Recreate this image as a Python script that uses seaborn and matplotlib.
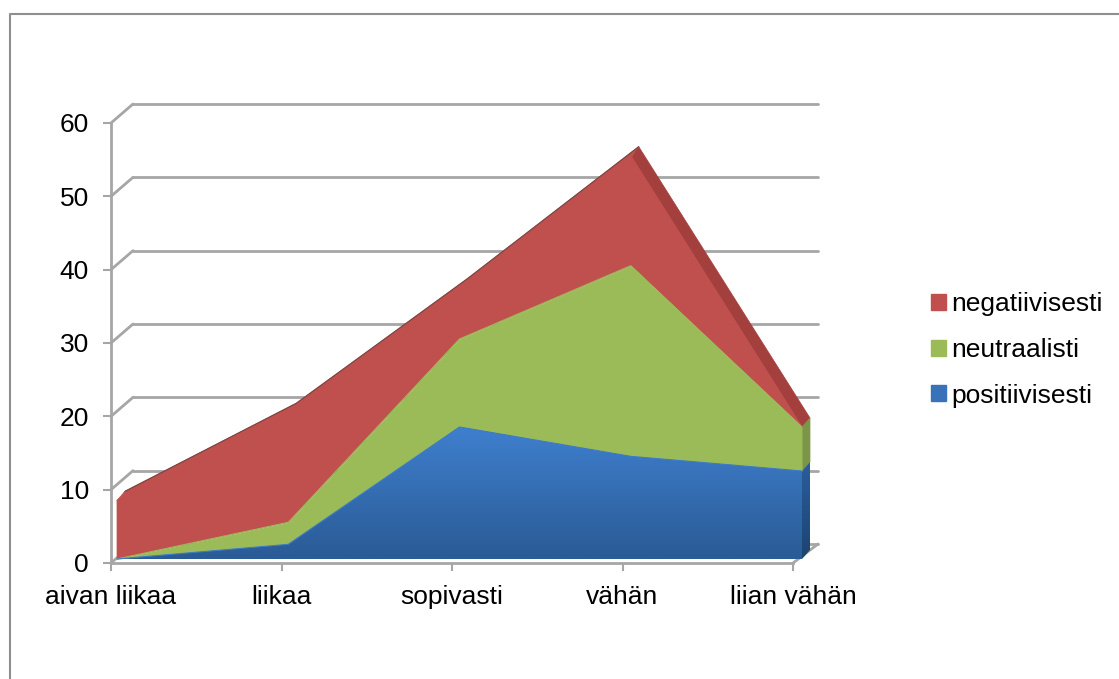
import numpy as np
import pandas as pd
import matplotlib
matplotlib.use('Agg')
import matplotlib.pyplot as plt
import matplotlib.transforms as mtrans
from matplotlib.colors import LinearSegmentedColormap
from matplotlib.lines import Line2D
from matplotlib.patches import Patch, Polygon
import seaborn as sns

categories = ['aivan liikaa', 'liikaa', 'sopivasti', 'vähän', 'liian vähän']
positiivisesti = [0, 2, 18, 14, 12]
neutraalisti = [0, 3, 12, 26, 6]
negatiivisesti = [8, 15, 7, 15, 0]
y_ticks = [0, 10, 20, 30, 40, 50, 60]

BLUE, GREEN, RED = '#3a72ba', '#9bbb59', '#c0504d'
GREY = '#a6a6a6'

sns.set_theme(style='white')
plt.rcParams['font.family'] = ['Liberation Sans', 'DejaVu Sans']

W, H = 1119, 679
AXIS_LEFT, AXIS_WIDTH = 111, 682
fig = plt.figure(figsize=(W / 100, H / 100), dpi=100, facecolor='white')
# axes box is the front plane of the fake 3D chart
ax = fig.add_axes([AXIS_LEFT / W, 1 - 563 / H, AXIS_WIDTH / W, 440 / H], facecolor='none')

x_pos = np.arange(len(categories))
pos_top = np.array(positiivisesti)
neu_top = pos_top + np.array(neutraalisti)
neg_top = neu_top + np.array(negatiivisesti)

df = pd.DataFrame({
    'x': np.tile(x_pos, 3),
    'y': np.concatenate([neg_top, neu_top, pos_top]),
    'serie': np.repeat(['negatiivisesti', 'neutraalisti', 'positiivisesti'], len(x_pos)),
})

ax.set_xlim(0, 4)
ax.set_ylim(0, 60)


def plane(dx, dy):
    # the planes behind the axis are a little wider than the axis itself
    shift = mtrans.Affine2D().translate(-AXIS_LEFT, 0).scale(685 / AXIS_WIDTH, 1).translate(AXIS_LEFT + dx, dy)
    return ax.transData + shift


wall_tr = plane(22, 19)
area_tr = plane(6, 4)
back_tr = plane(14, 13)
under_tr = plane(6, 0)  # a bit below the area's top edge, hides the seam
pixels = mtrans.IdentityTransform()


def depth_line(x, v):
    start = ax.transData.transform([(x, v)])
    end = wall_tr.transform([(x, v)])
    ax.plot([start[0, 0], end[0, 0]], [start[0, 1], end[0, 1]], color=GREY, lw=2,
            transform=pixels, clip_on=False, zorder=1)


# back wall grid
for v in y_ticks:
    ax.plot([0, 4], [v, v], color=GREY, lw=2, transform=wall_tr, clip_on=False, zorder=1)
    depth_line(0, v)
depth_line(4, 0)


def depth_face(x0, y0, x1, y1, color, front_tr=area_tr):
    front = front_tr.transform([(x0, y0), (x1, y1)])
    back = back_tr.transform([(x1, y1), (x0, y0)])
    poly = Polygon(np.vstack([front, back]), closed=True, facecolor=color, edgecolor=color,
                   lw=0.5, transform=pixels, clip_on=False, zorder=2)
    ax.add_patch(poly)
    return poly


# depth faces, the rising top faces catch the light
depth_face(0, 0, 0, neg_top[0], RED)
for i in range(3):
    depth_face(x_pos[i], neg_top[i], x_pos[i + 1], neg_top[i + 1], RED, under_tr)
ax.plot(x_pos[:4], neg_top[:4], color='#7d4644', lw=0.9, transform=back_tr, clip_on=False, zorder=2)
depth_face(3, neg_top[3], 4, neg_top[4], '#a33f3d', under_tr)
depth_face(4, pos_top[-1], 4, neu_top[-1], '#7c9647')
side = depth_face(4, 0, 4, pos_top[-1], 'none')

# stacked areas
ax.fill_between(x_pos, neu_top, neg_top, color=RED, lw=0, transform=area_tr, clip_on=False, zorder=3)
ax.fill_between(x_pos, pos_top, neu_top, color=GREEN, lw=0, transform=area_tr, clip_on=False, zorder=3)

outline = np.column_stack([np.r_[x_pos, x_pos[::-1]], np.r_[pos_top, np.zeros(len(x_pos))]])
ramp = np.linspace(0, 1, 64).reshape(-1, 1)
blue_cmap = LinearSegmentedColormap.from_list('blue', ['#3f7fce', '#2a5b95'])
im = ax.imshow(ramp, cmap=blue_cmap, aspect='auto', extent=(0, 4, 0, max(positiivisesti)),
               origin='upper', zorder=3)
im.set_transform(area_tr)
im.set_clip_box(fig.bbox)
im.set_clip_path(Polygon(outline, closed=True, transform=area_tr))

side_cmap = LinearSegmentedColormap.from_list('side', ['#2a5f9e', '#1d4470'])
im_side = ax.imshow(ramp, cmap=side_cmap, aspect='auto', extent=(4, 4.08, 0, 14), origin='upper', zorder=2)
im_side.set_transform(area_tr)
im_side.set_clip_box(fig.bbox)
im_side.set_clip_path(Polygon(side.get_xy(), closed=True, transform=pixels))

# layer edges
sns.lineplot(data=df, x='x', y='y', hue='serie', palette=[RED, GREEN, '#3d7ac6'], lw=0.8,
             legend=False, ax=ax, transform=area_tr, clip_on=False, zorder=4)

ax.set_xlim(0, 4)
ax.set_ylim(0, 60)
ax.set_xticks(x_pos, categories)
ax.set_yticks(y_ticks)
ax.set_xlabel('')
ax.set_ylabel('')
ax.tick_params(axis='both', which='major', length=6, width=1.5, color=GREY, labelsize=19,
               labelcolor='black', bottom=True, left=True)
ax.tick_params(axis='x', pad=9.5)
ax.tick_params(axis='y', pad=10)
for label in ax.get_yticklabels():
    label.set_verticalalignment('center_baseline')
sns.despine(ax=ax)
for spine in ['left', 'bottom']:
    ax.spines[spine].set_color(GREY)
    ax.spines[spine].set_linewidth(2)
    ax.spines[spine].set_zorder(5)

handles = [Patch(color=RED, label='negatiivisesti'),
           Patch(color=GREEN, label='neutraalisti'),
           Patch(color=BLUE, label='positiivisesti')]
ax.legend(handles=handles, loc='center left', bbox_to_anchor=(931 / W, 1 - 350 / H),
          bbox_transform=fig.transFigure, frameon=False, fontsize=19, labelcolor='black',
          handlelength=0.55, handleheight=0.55, handletextpad=0.22, labelspacing=0.82,
          borderpad=0, borderaxespad=0)

# chart frame, cropped at right and bottom
fig.add_artist(Line2D([10 / W, 10 / W, 1], [0, 1 - 14 / H, 1 - 14 / H], color='#8f8f8f', lw=1.5,
                      transform=fig.transFigure))

fig.savefig('out.png', dpi=100)
